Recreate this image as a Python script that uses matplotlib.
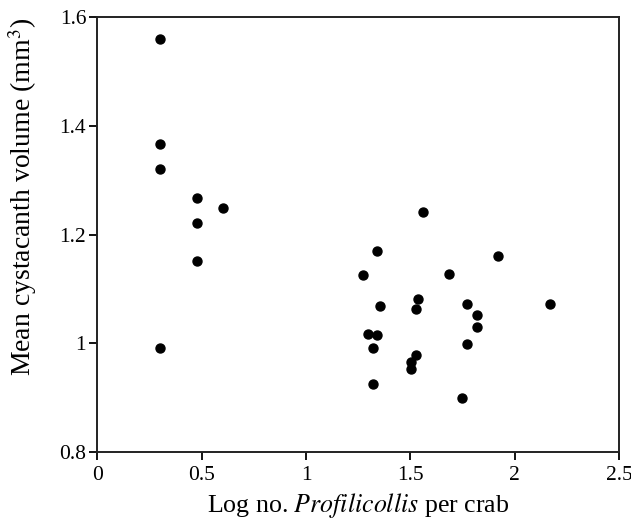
import matplotlib.pyplot as plt

plt.rcParams['font.family'] = ['Liberation Serif', 'DejaVu Serif']
plt.rcParams['mathtext.fontset'] = 'stix'

# log no. of Profilicollis per crab vs mean cystacanth volume
log_n = [0.30, 0.30, 0.30, 0.30, 0.477, 0.477, 0.477, 0.602,
         1.563, 1.338, 1.920, 1.274, 1.684, 1.537, 1.357, 1.526,
         1.772, 2.168, 1.820, 1.820, 1.295, 1.338, 1.319, 1.772,
         1.526, 1.502, 1.502, 1.319, 1.750]
volume = [1.560, 1.367, 1.321, 0.991, 1.268, 1.221, 1.152, 1.249,
          1.242, 1.169, 1.161, 1.126, 1.127, 1.082, 1.068, 1.064,
          1.072, 1.072, 1.053, 1.030, 1.017, 1.015, 0.991, 0.999,
          0.979, 0.965, 0.953, 0.926, 0.900]

x_ticks = [0, 0.5, 1, 1.5, 2, 2.5]
x_labels = ['0', '0.5', '1', '1.5', '2', '2.5']
y_ticks = [0.8, 1.0, 1.2, 1.4, 1.6]
y_labels = ['0.8', '1', '1.2', '1.4', '1.6']

fig = plt.figure(figsize=(6.31, 5.32), dpi=100)
ax = fig.add_axes([0.1542, 0.1504, 0.9810 - 0.1542, 0.9675 - 0.1504])

ax.scatter(log_n, volume, s=42, color='black', zorder=3)

ax.set_xlim(0, 2.5)
ax.set_ylim(0.8, 1.6)
ax.set_xticks(x_ticks)
ax.set_xticklabels(x_labels)
ax.set_yticks(y_ticks)
ax.set_yticklabels(y_labels)
ax.tick_params(direction='out', length=6, width=1.3, labelsize=15.5, colors='black')
ax.tick_params(axis='x', pad=4)
ax.tick_params(axis='y', pad=2)

for s in ax.spines.values():
    s.set_linewidth(1.4)
    s.set_color('#222222')

ax.set_xlabel('Log no. $\\mathit{Profilicollis}$ per crab', fontsize=18.6)
ax.set_ylabel('Mean cystacanth volume (mm$^3$)', fontsize=20)
ax.xaxis.set_label_coords(0.5, -0.09)
ax.yaxis.set_label_coords(-0.112, 0.587)

fig.savefig('out.png', dpi=100)
